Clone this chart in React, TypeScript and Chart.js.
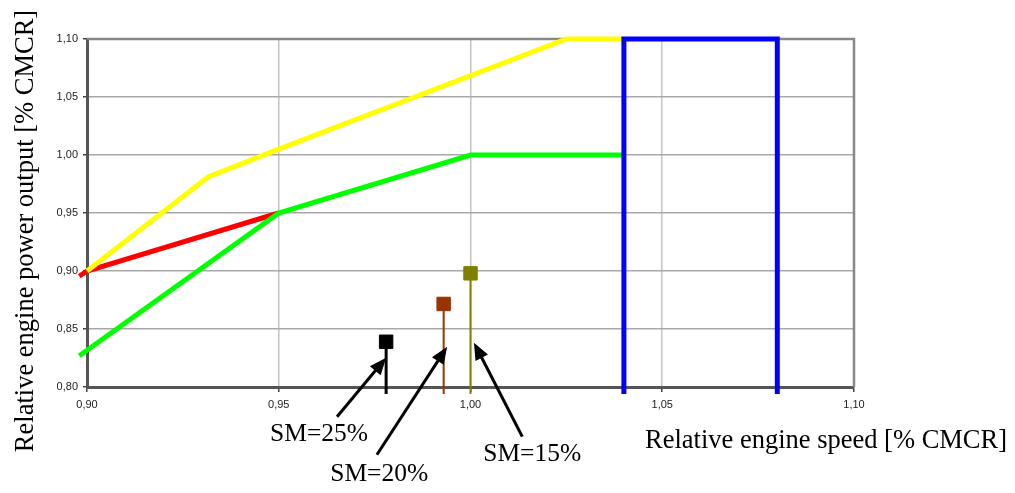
import React, { useEffect, useRef } from 'react';
import { Chart, registerables } from 'chart.js';

Chart.register(...registerables);

// Axis ticks
const xTickValues = [0.9, 0.95, 1.0, 1.05, 1.1];
const yTickValues = [0.8, 0.85, 0.9, 0.95, 1.0, 1.05, 1.1];

// Yellow limit line
const yellowSpeed = [0.9, 0.9316, 0.95, 1.025, 1.04];
const yellowPower = [0.9, 0.981, 1.005, 1.1, 1.1];

// Red line
const redSpeed = [0.898, 0.9, 0.95];
const redPower = [0.8955, 0.9, 0.95];

// Green line
const greenSpeed = [0.898, 0.95, 1.0, 1.04];
const greenPower = [0.827, 0.95, 1.0, 1.0];

// Blue box
const blueSpeed = [1.04, 1.04, 1.08, 1.08];
const bluePower = [0.794, 1.1, 1.1, 0.794];

// Sea margin points (stem + marker)
const smLabels = ['SM=25%', 'SM=20%', 'SM=15%'];
const smSpeed = [0.978, 0.993, 1.0];
const smPower = [0.839, 0.8716, 0.898];
const smStemBase = [0.794, 0.794, 0.794];
const smColors = ['#000000', '#993300', '#808000'];
const smStemWidths = [3, 2, 2];

// Annotation arrows (data coordinates)
const arrowTailX = [0.9652, 0.9756, 1.0135];
const arrowTailY = [0.7744, 0.7416, 0.7572];
const arrowTipX = [0.978, 0.9939, 1.0009];
const arrowTipY = [0.8253, 0.8347, 0.8382];
const labelX = [0.9605, 0.9762, 1.0161];
const labelY = [0.7589, 0.7244, 0.7416];

const xTitle = 'Relative engine speed [% CMCR]';
const yTitle = 'Relative engine power output [% CMCR]';

const pts = (xs: number[], ys: number[]) => xs.map((x, i) => ({ x, y: ys[i] }));
const fmt = (v: number) => Number(v).toFixed(2).replace('.', ',');
const serif = '"Liberation Serif", "Times New Roman", serif';

const annotPlugin = {
  id: 'annot',
  beforeDatasetsDraw(chart: any) {
    const { ctx, chartArea } = chart;
    ctx.save();
    ctx.strokeStyle = '#888888';
    ctx.lineWidth = 2.5;
    ctx.beginPath();
    ctx.moveTo(chartArea.left, chartArea.top);
    ctx.lineTo(chartArea.right, chartArea.top);
    ctx.lineTo(chartArea.right, chartArea.bottom);
    ctx.stroke();
    ctx.restore();
  },
  afterDraw(chart: any) {
    const { ctx, chartArea, scales } = chart;
    const xs = scales.x;
    const ys = scales.y;
    ctx.save();
    // arrows
    for (let i = 0; i < smLabels.length; i++) {
      const x1 = xs.getPixelForValue(arrowTailX[i]);
      const y1 = ys.getPixelForValue(arrowTailY[i]);
      const x2 = xs.getPixelForValue(arrowTipX[i]);
      const y2 = ys.getPixelForValue(arrowTipY[i]);
      const ang = Math.atan2(y2 - y1, x2 - x1);
      const headLen = 17;
      const headW = 7;
      const bx = x2 - headLen * Math.cos(ang);
      const by = y2 - headLen * Math.sin(ang);
      ctx.strokeStyle = '#000';
      ctx.lineWidth = 3;
      ctx.beginPath();
      ctx.moveTo(x1, y1);
      ctx.lineTo(bx + 2 * Math.cos(ang), by + 2 * Math.sin(ang));
      ctx.stroke();
      ctx.fillStyle = '#000';
      ctx.beginPath();
      ctx.moveTo(x2, y2);
      ctx.lineTo(bx + headW * Math.sin(ang), by - headW * Math.cos(ang));
      ctx.lineTo(bx - headW * Math.sin(ang), by + headW * Math.cos(ang));
      ctx.closePath();
      ctx.fill();
      // label
      ctx.font = `25.5px ${serif}`;
      ctx.textAlign = 'center';
      ctx.textBaseline = 'middle';
      ctx.fillText(smLabels[i], xs.getPixelForValue(labelX[i]), ys.getPixelForValue(labelY[i]));
    }
    // axis titles
    ctx.fillStyle = '#000';
    ctx.font = `26.5px ${serif}`;
    ctx.textAlign = 'center';
    ctx.textBaseline = 'middle';
    ctx.fillText(xTitle, chartArea.right - 28, chartArea.bottom + 54);
    ctx.translate(26, 231);
    ctx.rotate(-Math.PI / 2);
    ctx.fillText(yTitle, 0, 0);
    ctx.restore();
  },
};

export default function App() {
  const ref = useRef<HTMLCanvasElement | null>(null);
  useEffect(() => {
    if (!ref.current) return;
    const lineDs = (label: string, data: any[], color: string, width = 5) => ({
      label,
      data,
      borderColor: color,
      backgroundColor: color,
      borderWidth: width,
      pointRadius: 0,
      tension: 0,
      clip: false as any,
      borderJoinStyle: 'miter' as any,
      borderCapStyle: 'butt' as any,
    });
    const stems = smLabels.map((lab, i) => ({
      label: lab,
      data: pts([smSpeed[i], smSpeed[i]], [smStemBase[i], smPower[i]]),
      borderColor: smColors[i],
      backgroundColor: smColors[i],
      borderWidth: smStemWidths[i],
      pointRadius: [0, 9.5],
      pointStyle: 'rect' as any,
      pointBackgroundColor: smColors[i],
      pointBorderColor: smColors[i],
      pointBorderWidth: 1,
      clip: false as any,
    }));
    const chart = new Chart(ref.current, {
      type: 'line',
      data: {
        datasets: [
          ...stems,
          lineDs('blue', pts(blueSpeed, bluePower), '#0000ff'),
          lineDs('yellow', pts(yellowSpeed, yellowPower), '#ffff00'),
          lineDs('green', pts(greenSpeed, greenPower), '#00ff00'),
          lineDs('red', pts(redSpeed, redPower), '#ff0000'),
        ] as any,
      },
      options: {
        animation: false,
        responsive: true,
        maintainAspectRatio: false,
        layout: { padding: { left: 0, top: 39, right: 161, bottom: 76 } },
        plugins: { legend: { display: false }, tooltip: { enabled: false } },
        scales: {
          x: {
            type: 'linear',
            min: 0.9,
            max: 1.1,
            afterBuildTicks: (s: any) => {
              s.ticks = xTickValues.map((v) => ({ value: v }));
            },
            afterFit: (s: any) => {
              s.height = 30;
            },
            ticks: {
              callback: (v: any) => fmt(v),
              font: { family: '"Liberation Sans", Arial, sans-serif', size: 11 },
              color: '#222',
              padding: 6,
              maxRotation: 0,
            },
            grid: { color: '#c4c4c4', lineWidth: 1.5, tickColor: '#444', tickLength: 5 },
            border: { color: '#555', width: 3 },
          },
          y: {
            type: 'linear',
            min: 0.8,
            max: 1.1,
            afterBuildTicks: (s: any) => {
              s.ticks = yTickValues.map((v) => ({ value: v }));
            },
            afterFit: (s: any) => {
              s.width = 87;
            },
            ticks: {
              callback: (v: any) => fmt(v),
              font: { family: '"Liberation Sans", Arial, sans-serif', size: 11 },
              color: '#222',
              padding: 5,
            },
            grid: { color: '#a8a8a8', lineWidth: 1.5, tickColor: '#444', tickLength: 4 },
            border: { color: '#555', width: 3 },
          },
        },
      },
      plugins: [annotPlugin],
    });
    return () => chart.destroy();
  }, []);
  return (
    <div style={{ position: 'fixed', left: 0, top: 0, width: 1015, height: 493, background: '#fff' }}>
      <canvas ref={ref} />
    </div>
  );
}
